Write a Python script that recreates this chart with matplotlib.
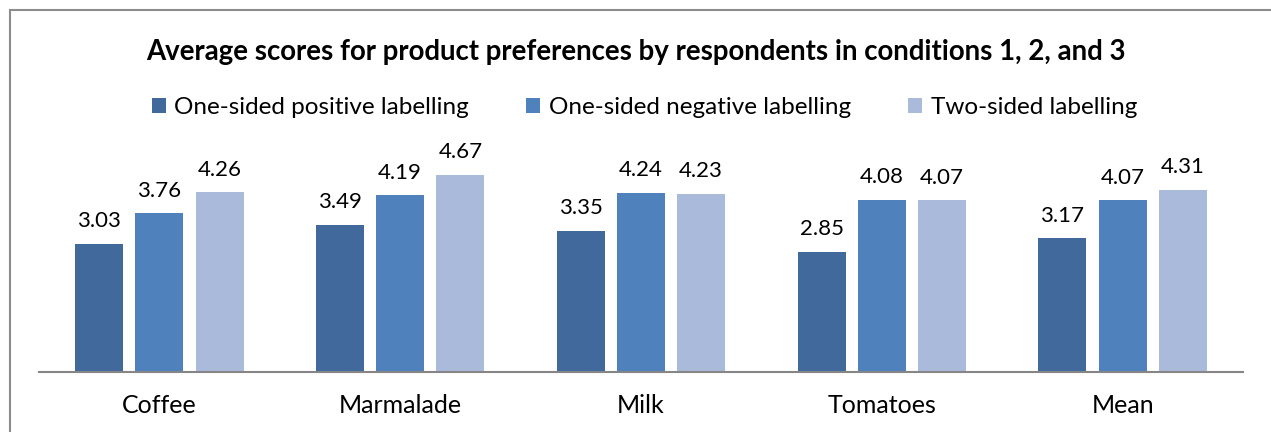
import matplotlib.pyplot as plt
import numpy as np
from matplotlib.patches import Rectangle

categories = ['Coffee', 'Marmalade', 'Milk', 'Tomatoes', 'Mean']
series_names = ['One-sided positive labelling', 'One-sided negative labelling', 'Two-sided labelling']
positive = [3.03, 3.49, 3.35, 2.85, 3.17]
negative = [3.76, 4.19, 4.24, 4.08, 4.07]
two_sided = [4.26, 4.67, 4.23, 4.07, 4.31]

colors = ['#41699B', '#4F81BD', '#AABADA']

plt.rcParams['font.family'] = ['Lato', 'DejaVu Sans']

fig = plt.figure(figsize=(12.71, 4.32), dpi=100)

# chart frame
fig.patches.append(Rectangle((10/1271, -0.05), 1.1, 1 - 10/432 + 0.05,
                             transform=fig.transFigure, fill=False,
                             edgecolor='#8C8C8C', lw=1.5))

ax = fig.add_axes([39/1271, 1 - 372/432, 1204/1271, 0.4884])
x = np.arange(len(categories))
w = 0.2
for i, vals in enumerate([positive, negative, two_sided]):
    bars = ax.bar(x + (i - 1)*0.25, vals, w, color=colors[i], label=series_names[i])
    for b, v in zip(bars, vals):
        ax.text(b.get_x() + b.get_width()/2, v + 0.3, '%.2f' % v,
                ha='center', va='bottom', fontsize=16)

ax.set_xlim(-0.5, len(categories) - 0.5)
ax.set_ylim(0, 5)
ax.set_yticks([])
ax.set_xticks(x)
ax.set_xticklabels(categories, fontsize=18)
ax.tick_params(axis='x', length=0, pad=16)
for s in ['top', 'right', 'left']:
    ax.spines[s].set_visible(False)
ax.spines['bottom'].set_color('#868686')
ax.spines['bottom'].set_linewidth(1.5)

fig.text(0.5, 1 - 52/432, 'Average scores for product preferences by respondents in conditions 1, 2, and 3',
         ha='center', va='center', fontsize=19.9, fontweight='bold')
fig.legend(loc='center', bbox_to_anchor=(0.507, 1 - 108/432), ncol=3, frameon=False,
           fontsize=17.5, handlelength=0.58, handleheight=0.58, handletextpad=0.35,
           columnspacing=2.35)

fig.savefig('out.png', dpi=100)
